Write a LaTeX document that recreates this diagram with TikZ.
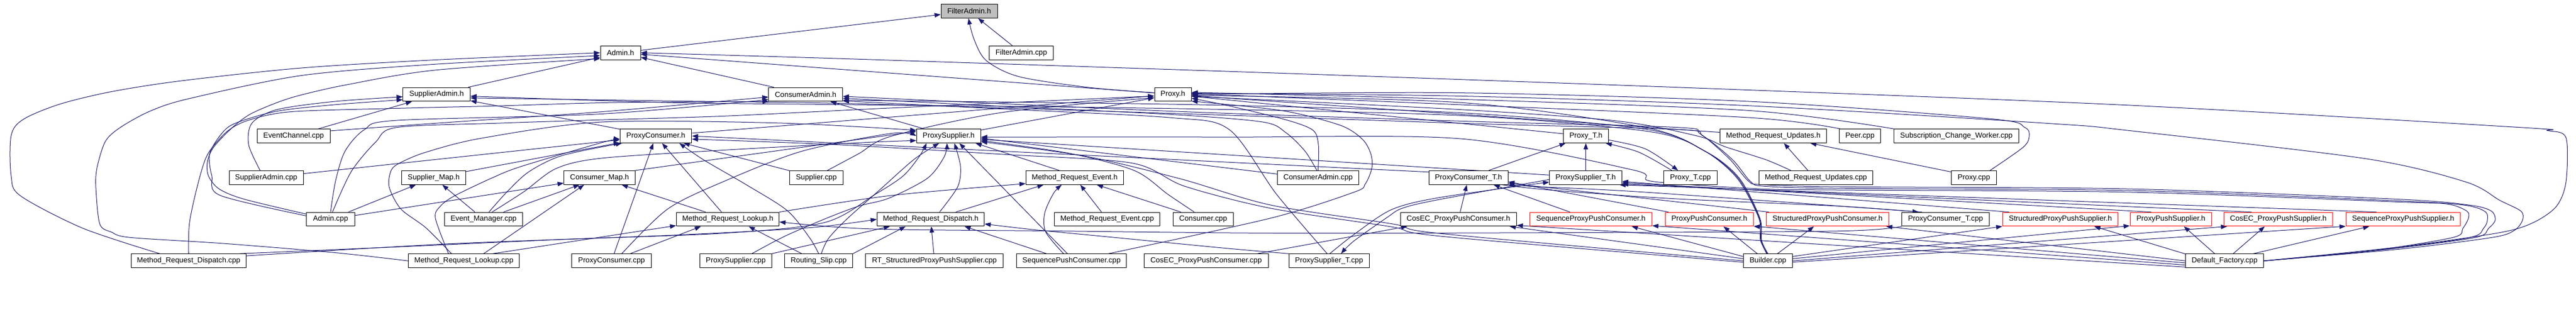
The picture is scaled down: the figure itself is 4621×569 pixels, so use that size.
\documentclass[tikz,border=0pt]{standalone}
\usepackage{fontspec}
\setmainfont{Liberation Sans}
\usetikzlibrary{arrows.meta}
\pgfdeclarelayer{bglayer}
\pgfdeclarelayer{edgelayer}
\pgfsetlayers{bglayer,edgelayer,main}
\definecolor{edgecol}{RGB}{25,25,112}
\definecolor{grayfill}{RGB}{191,191,191}
\newcommand\nodefont{\fontsize{13.3}{15}\selectfont}
\newcommand\mynode[6]{\node[#6, minimum width=#4pt] (#1) at (#2,{20.65+77.1*#3}) {#5};}
\tikzset{
  box/.style={draw=black, line width=1pt, fill=white, minimum height=24.8pt, inner sep=0pt, font=\nodefont, text=black},
  rbox/.style={box, draw=red},
  gbox/.style={box, fill=grayfill},
  edg/.style={draw=edgecol, line width=1pt, -{Triangle[length=11pt,width=8pt]}}
}
\begin{document}
\begin{tikzpicture}[x=1pt,y=-0.9689pt]
\begin{pgfonlayer}{bglayer}
\fill[white] (0pt,0pt) rectangle (4621pt,-569pt);
\end{pgfonlayer}
\useasboundingbox (0pt,0pt) rectangle (4621pt,-569pt);
% row 0
\mynode{fa}{1738.5}{0}{101}{FilterAdmin.h}{gbox}
% row 1
\mynode{admh}{1113}{1}{72}{Admin.h}{box}
\mynode{facpp}{1832}{1}{114.5}{FilterAdmin.cpp}{box}
% row 2
\mynode{supadmh}{783.2}{2}{120.5}{SupplierAdmin.h}{box}
\mynode{conadmh}{1445.2}{2}{132.5}{ConsumerAdmin.h}{box}
\mynode{proxyh}{2104}{2}{66}{Proxy.h}{box}
% row 3
\mynode{evccpp}{526.8}{3}{130.4}{EventChannel.cpp}{box}
\mynode{pconh}{1176.5}{3}{128.6}{ProxyConsumer.h}{box}
\mynode{psuph}{1701.8}{3}{115.2}{ProxySupplier.h}{box}
\mynode{proxyth}{2844.8}{3}{81}{Proxy\_T.h}{box}
\mynode{mruh}{3181}{3}{191}{Method\_Request\_Updates.h}{box}
\mynode{peercpp}{3336.5}{3}{74}{Peer.cpp}{box}
\mynode{scwcpp}{3509.5}{3}{224}{Subscription\_Change\_Worker.cpp}{box}
% row 4
\mynode{supadmcpp}{477.5}{4}{133}{SupplierAdmin.cpp}{box}
\mynode{smaph}{778}{4}{115}{Supplier\_Map.h}{box}
\mynode{cmaph}{1075.5}{4}{127.6}{Consumer\_Map.h}{box}
\mynode{supcpp}{1464.4}{4}{95.7}{Supplier.cpp}{box}
\mynode{mreh}{1927.8}{4}{175}{Method\_Request\_Event.h}{box}
\mynode{conadmcpp}{2364.5}{4}{146.2}{ConsumerAdmin.cpp}{box}
\mynode{pcontH}{2634.3}{4}{142}{ProxyConsumer\_T.h}{box}
\mynode{psuptH}{2844.4}{4}{129.8}{ProxySupplier\_T.h}{box}
\mynode{proxytcpp}{3032.5}{4}{96.2}{Proxy\_T.cpp}{box}
\mynode{mrucpp}{3257.4}{4}{204}{Method\_Request\_Updates.cpp}{box}
\mynode{proxycpp}{3540.9}{4}{80.9}{Proxy.cpp}{box}
% row 5
\mynode{admcpp}{593}{5}{87.5}{Admin.cpp}{box}
\mynode{evmcpp}{867.4}{5}{140.2}{Event\_Manager.cpp}{box}
\mynode{mrlh}{1305.5}{5}{184.2}{Method\_Request\_Lookup.h}{box}
\mynode{mrdh}{1669.5}{5}{192.4}{Method\_Request\_Dispatch.h}{box}
\mynode{mrecpp}{1986}{5}{189.1}{Method\_Request\_Event.cpp}{box}
\mynode{concpp}{2158.3}{5}{107.8}{Consumer.cpp}{box}
\mynode{cecppch}{2616.2}{5}{208}{CosEC\_ProxyPushConsumer.h}{box}
\mynode{sppch}{2853.8}{5}{219.1}{SequenceProxyPushConsumer.h}{rbox}
\mynode{ppch}{3066.3}{5}{158}{ProxyPushConsumer.h}{rbox}
\mynode{sdppch}{3278.3}{5}{220.3}{StructuredProxyPushConsumer.h}{rbox}
\mynode{pcontcpp}{3490}{5}{156.7}{ProxyConsumer\_T.cpp}{box}
\mynode{sdppsh}{3696}{5}{207.4}{StructuredProxyPushSupplier.h}{rbox}
\mynode{ppsh}{3894.3}{5}{146.6}{ProxyPushSupplier.h}{rbox}
\mynode{cecppsh}{4086.9}{5}{195.7}{CosEC\_ProxyPushSupplier.h}{rbox}
\mynode{sppsh}{4310.9}{5}{205.4}{SequenceProxyPushSupplier.h}{rbox}
% row 6
\mynode{mrdcpp}{338.3}{6}{206}{Method\_Request\_Dispatch.cpp}{box}
\mynode{mrlcpp}{832.2}{6}{199}{Method\_Request\_Lookup.cpp}{box}
\mynode{pconcpp}{1097}{6}{142.8}{ProxyConsumer.cpp}{box}
\mynode{psupcpp}{1319.8}{6}{128.8}{ProxySupplier.cpp}{box}
\mynode{rscpp}{1468.6}{6}{122}{Routing\_Slip.cpp}{box}
\mynode{rtcpp}{1676.2}{6}{246.7}{RT\_StructuredProxyPushSupplier.cpp}{box}
\mynode{spcpp}{1922.2}{6}{197.5}{SequencePushConsumer.cpp}{box}
\mynode{ceccpp}{2163.6}{6}{222.8}{CosEC\_ProxyPushConsumer.cpp}{box}
\mynode{psuptcpp}{2384.2}{6}{143.8}{ProxySupplier\_T.cpp}{box}
\mynode{buildcpp}{3171.4}{6}{88.3}{Builder.cpp}{box}
\mynode{defcpp}{3990.6}{6}{140}{Default\_Factory.cpp}{box}

\begin{pgfonlayer}{edgelayer}
% ---- FilterAdmin.h
\draw[edg] (admh) -- (fa);
\draw[edg] (facpp) -- (fa);
\draw[edg] plot[smooth] coordinates {(proxyh.175) (1953,162) (1828,142) (1769,112) (1747,72) (fa.-95)};
% ---- Admin.h
\draw[edg] (supadmh) -- (admh);
\draw[edg] (conadmh) -- (admh);
\draw[edg] (proxyh) -- (admh);
\draw[edg] plot[smooth] coordinates {(defcpp.east) (4300,458) (4484,431) (4545,412) (4586,382) (4603,337) (4603,255) (4570,242) (4520,236) (3820,195) (3040,163) (2280,135) (1520,109) (admh.east)};
\draw[edg] plot[smooth] coordinates {(mrdcpp.166) (149,423) (37,363) (20,326) (20,251) (42,221) (107,193) (199,170) (323,150) (540,126) (780,111) (admh.180)};
\draw[edg] plot[smooth] coordinates {(mrlcpp.west) (600,468) (400,451) (234,440) (200,430) (179,415) (172,348) (174,311) (189,262) (216,236) (269,206) (338,183) (540,140) (780,119) (admh.188)};
\draw[edg] plot[smooth] coordinates {(admcpp.168) (438,369) (393,350) (374,326) (372,300) (383,273) (415,238) (448,212) (497,190) (540,176) (622,157) (780,130) (admh.196)};
% ---- SupplierAdmin.h
\draw[edg] (evccpp) -- (supadmh);
\draw[edg] plot[smooth] coordinates {(supadmcpp.130) (446,268) (452,228) (497,203) (600,188) (supadmh.184)};
\draw[edg] plot[smooth] coordinates {(admcpp.172) (395,362) (380,326) (376,285) (398,247) (423,228) (497,206) (600,194) (supadmh.189)};
\draw[edg] (pconh) -- (supadmh);
\draw[edg] plot[smooth] coordinates {(buildcpp.north) (3160,445) (3157,404) (3120,330) (3062,282) (2960,244) (2620,214) (2100,201) (1530,194) (1200,190) (supadmh.-3)};
\draw[edg] plot[smooth] coordinates {(defcpp.east) (4270,463) (4430,440) (4455,423) (4462,408) (4458,392) (4420,380) (4300,372) (3820,353) (3300,349) (3165,345) (3140,336) (3108,296) (3055,252) (3012,240) (2640,229) (2100,210) (1530,192) (1200,187) (supadmh.-6)};
% ---- ConsumerAdmin.h
\draw[edg] (psuph) -- (conadmh);
\draw[edg] plot[smooth] coordinates {(evccpp.8) (800,227) (1080,207) (conadmh.184)};
\draw[edg] plot[smooth] coordinates {(admcpp.north) (602,335) (619,280) (654,240) (712,223) (1080,211) (conadmh.188)};
\draw[edg] plot[smooth] coordinates {(mrdcpp.north) (340,412) (356,337) (373,285) (408,243) (448,222) (522,207) (700,201) (900,196) (1100,190) (conadmh.191)};
\draw[edg] plot[smooth] coordinates {(conadmcpp.100) (2341,280) (2307,246) (2265,226) (2100,212) (1800,197) (conadmh.-6)};
\draw[edg] plot[smooth] coordinates {(psuptcpp.105) (2290,360) (2205,240) (2100,218) (1800,202) (conadmh.-10)};
\draw[edg] plot[smooth] coordinates {(buildcpp.100) (3159,445) (3156,404) (3118,330) (3058,280) (2955,240) (2620,209) (2150,194) (conadmh.-9)};
\draw[edg] plot[smooth] coordinates {(defcpp.east) (4280,462) (4440,440) (4464,423) (4476,408) (4469,391) (4430,380) (4300,369) (3820,350) (3300,346) (3160,342) (3136,335) (3102,294) (3050,248) (3009,236) (2640,225) (2100,206) (conadmh.-3)};
% ---- Proxy.h
\draw[edg] (pconh) -- (proxyh);
\draw[edg] (psuph) -- (proxyh);
\draw[edg] (proxyth) -- (proxyh);
\draw[edg] (mruh) -- (proxyh);
\draw[edg] plot[smooth] coordinates {(peercpp.160) (3140,218) (2620,194) (proxyh.2)};
\draw[edg] plot[smooth] coordinates {(scwcpp.north west) (3140,205) (2620,184) (proxyh.6)};
\draw[edg] plot[smooth] coordinates {(proxycpp.24) (3629,273) (3640,253) (3632,236) (3570,220) (3140,188) (2620,172) (proxyh.east)};
\draw[edg] plot[smooth] coordinates {(conadmcpp.north) (2365,268) (2355,241) (2307,222) (2200,195) (proxyh.-12)};
\draw[edg] plot[smooth] coordinates {(spcpp.11) (2280,404) (2429,356) (2449,341) (2461,311) (2459,285) (2444,258) (2404,232) (2300,205) (proxyh.-20)};
\draw[edg] plot[smooth] coordinates {(mrucpp.164) (3168,296) (3095,272) (3045,252) (2900,224) (2620,203) (proxyh.-6)};
\draw[edg] plot[smooth] coordinates {(supcpp.33) (1540,285) (1600,252) (1800,208) (proxyh.190)};
\draw[edg] plot[smooth] coordinates {(admcpp.75) (630,318) (674,263) (712,236) (900,228) (1080,222) (1300,215) (1600,200) (proxyh.185)};
\draw[edg] plot[smooth] coordinates {(buildcpp.95) (3158,445) (3155,404) (3116,330) (3055,278) (2950,236) (2620,190) (proxyh.-3)};
\draw[edg] plot[smooth] coordinates {(defcpp.east) (4300,462) (4470,440) (4510,427) (4525,408) (4522,391) (4484,371) (4423,337) (4244,294) (3820,242) (3680,229) (3140,196) (2620,178) (proxyh.3)};
% ---- ProxyConsumer.h
\draw[edg] (supadmcpp) -- (pconh);
\draw[edg] (smaph) -- (pconh);
\draw[edg] (supcpp) -- (pconh);
\draw[edg] (mrlh) -- (pconh);
\draw[edg] (pconcpp) -- (pconh);
\draw[edg] plot[smooth] coordinates {(evmcpp.53) (909,356) (949,318) (1009,288) (pconh.192)};
\draw[edg] plot[smooth] coordinates {(mrlcpp.155) (781,404) (790,382) (815,363) (884,329) (936,308) (1080,264) (pconh.185)};
\draw[edg] plot[smooth] coordinates {(rscpp.north) (1452,440) (1412,390) (1340,343) (1262,296) (pconh.-17)};
\draw[edg] (pcontH.172) -- (pconh.east);
\draw[edg] plot[smooth] coordinates {(buildcpp.183) (3060,480) (2578,437) (2495,420) (2280,386) (2125,345) (2030,302) (1800,286) (1500,268) (pconh.-5)};
% ---- ProxySupplier.h
\draw[edg] (cmaph.north east) -- (psuph.172);
\draw[edg] plot[smooth] coordinates {(evmcpp.40) (940,355) (998,312) (1080,293) (1300,278) (1550,264) (psuph.188)};
\draw[edg] plot[smooth] coordinates {(mrlcpp.150) (764,422) (719,387) (698,346) (702,315) (719,301) (764,282) (864,256) (1080,226) (1400,228) (psuph.170)};
\draw[edg] plot[smooth] coordinates {(pconcpp.35) (1198,387) (1301,335) (1439,280) (1600,247) (psuph.west)};
\draw[edg] plot[smooth] coordinates {(mrdcpp.8) (700,458) (1000,444) (1300,432) (1480,412) (1570,360) (1620,326) (1649,290) (psuph.-162)};
\draw[edg] plot[smooth] coordinates {(rscpp.70) (1486,442) (1520,405) (1580,350) (1640,295) (psuph.-143)};
\draw[edg] plot[smooth] coordinates {(psupcpp.24) (1407,438) (1481,405) (1540,382) (1595,367) (1664,330) (1694,290) (psuph.-103)};
\draw[edg] plot[smooth] coordinates {(mrdh.39) (1718,346) (1723,308) (psuph.-52)};
\draw[edg] (spcpp.120) -- (psuph.-34);
\draw[edg] (mreh.155) -- (psuph.-15);
\draw[edg] plot[smooth] coordinates {(concpp.141) (2095,360) (2035,316) (1918,284) (psuph.-8)};
\draw[edg] (psuptH.176) -- (psuph.-6);
\draw[edg] (conadmcpp.175) -- (psuph.-4);
\draw[edg] plot[smooth] coordinates {(buildcpp.west) (3060,477) (2578,432) (2499,415) (2280,380) (2120,332) (1950,290) (psuph.-10)};
\draw[edg] plot[smooth] coordinates {(defcpp.east) (4250,465) (4400,440) (4418,423) (4428,404) (4425,391) (4390,378) (4300,374) (3820,356) (3300,352) (3160,350) (2964,336) (2930,315) (2620,257) (2200,254) (psuph.-2)};
% ---- maps
\draw[edg] (admcpp) -- (smaph);
\draw[edg] (evmcpp) -- (smaph);
\draw[edg] (admcpp) -- (cmaph);
\draw[edg] (evmcpp) -- (cmaph);
\draw[edg] (mrlh) -- (cmaph);
\draw[edg] (mrlcpp.20) -- (cmaph.205);
% ---- Method_Request_Lookup.h
\draw[edg] (rscpp.157) -- (mrlh.-19);
\draw[edg] (pconcpp.21) -- (mrlh.195);
\draw[edg] (mrlcpp.14) -- (mrlh.187);
\draw[edg] plot[smooth] coordinates {(pcontcpp.south west) (3300,428) (2800,431) (2300,432) (1900,428) (1560,424) (mrlh.-3)};
% ---- Method_Request_Event.h
\draw[edg] plot[smooth] coordinates {(mrlh.north east) (1600,362) (mreh.187)};
\draw[edg] (mrdh.16) -- (mreh.-167);
\draw[edg] plot[smooth] coordinates {(spcpp.138) (1876,430) (1874,395) (1890,358) (mreh.-151)};
\draw[edg] (mrecpp) -- (mreh);
\draw[edg] (concpp) -- (mreh);
% ---- Method_Request_Dispatch.h
\draw[edg] plot[smooth] coordinates {(mrdcpp.5) (800,452) (1200,436) (1450,422) (mrdh.west)};
\draw[edg] (psupcpp.north east) -- (mrdh.-170);
\draw[edg] (rscpp.north east) -- (mrdh.-164);
\draw[edg] (rtcpp) -- (mrdh);
\draw[edg] (spcpp.164) -- (mrdh.-12);
\draw[edg] plot[smooth] coordinates {(psuptcpp.north west) (2200,460) (2000,440) (1850,425) (mrdh.-5)};
% ---- Method_Request_Updates.h
\draw[edg] (proxycpp.166) -- (mruh.-11);
\draw[edg] (mrucpp.138) -- (mruh.-34);
% ---- templates
\draw[edg] (pcontH) -- (proxyth);
\draw[edg] (psuptH) -- (proxyth);
\draw[edg] plot[smooth] coordinates {(proxytcpp.159) (2940,282) (proxyth.-20)};
\draw[edg] plot[smooth] coordinates {(proxyth.-10) (2952,276) (proxytcpp.150)};
\draw[edg] plot[smooth] coordinates {(psuptcpp.85) (2432,432) (2497,388) (2582,366) (psuptH.187)};
\draw[edg] plot[smooth] coordinates {(psuptH.183) (2575,371) (2515,386) (2488,403) (2428,447) (psuptcpp.31)};
\draw[edg] plot[smooth] coordinates {(pcontcpp.163) (2950,356) (2760,346) (pcontH.-10)};
\draw[edg] plot[smooth] coordinates {(pcontH.-12) (2780,352) (3000,368) (3300,382) (pcontcpp.165)};
\draw[edg] (cecppch) -- (pcontH);
\draw[edg] (sppch.161) -- (pcontH.-16);
\draw[edg] (ppch.170) -- (pcontH.-6);
\draw[edg] (sdppch.173) -- (pcontH.-8);
\draw[edg] (sdppsh.172) -- (psuptH.-6);
\draw[edg] (ppsh.160) -- (psuptH.-8);
\draw[edg] (cecppsh.165) -- (psuptH.-10);
\draw[edg] (sppsh.165) -- (psuptH.-12);
\draw[edg] (ceccpp.8) -- (cecppch.188);
% ---- Builder.cpp
\draw[edg] (buildcpp.175) -- (cecppch.-8);
\draw[edg] (buildcpp.170) -- (sppch.-10);
\draw[edg] (buildcpp.146) -- (ppch.-27);
\draw[edg] (buildcpp.37) -- (sdppch.208);
\draw[edg] (buildcpp.10) -- (sdppsh.187);
\draw[edg] (buildcpp.5) -- (ppsh.189);
\draw[edg] (buildcpp.0) -- (cecppsh.188);
\draw[edg] (buildcpp.-3) -- (sppsh.187);
% ---- Default_Factory.cpp
\draw[edg] (defcpp.144) -- (ppsh.-29);
\draw[edg] (defcpp.40) -- (cecppsh.-152);
\draw[edg] (defcpp.14) -- (sppsh.-168);
\draw[edg] (defcpp.170) -- (sdppsh.-12);
\draw[edg] (defcpp.180) -- (sdppch.-7);
\draw[edg] (defcpp.183) -- (ppch.-9);
\draw[edg] (defcpp.186) -- (sppch.-6);
\draw[edg] (defcpp.189) -- (cecppch.-6);
\end{pgfonlayer}
\end{tikzpicture}
\end{document}
